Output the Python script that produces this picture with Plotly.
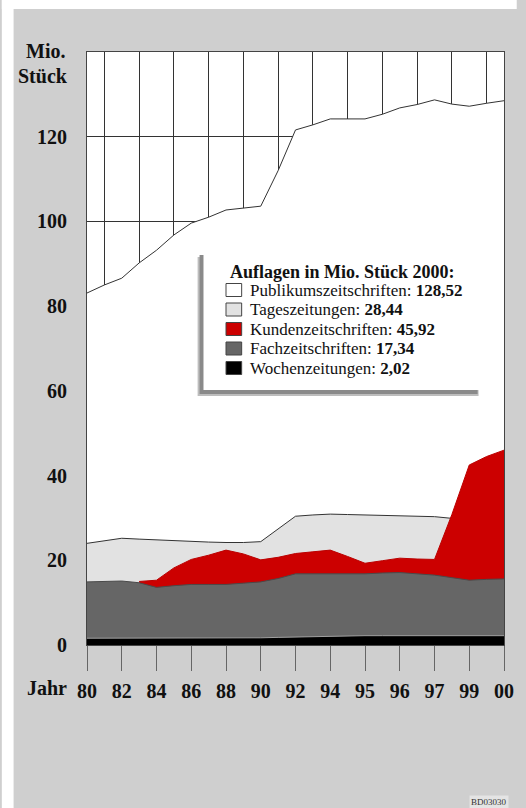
import plotly.graph_objects as go

# ---------------- data ----------------
periods = ["80", "81", "82", "83", "84", "85", "86", "87", "88", "89", "90", "91",
           "92", "93", "94", "94½", "95", "95½", "96", "96½", "97", "98", "99", "99½", "00"]
tick_labels = ["80", "82", "84", "86", "88", "90", "92", "94", "95", "96", "97", "99", "00"]

publikum = [83.1, 85.0, 86.6, 90.2, 93.2, 96.8, 99.6, 101.0, 102.7, 103.1, 103.6, 112.0,
            121.6, 122.8, 124.2, 124.2, 124.2, 125.3, 126.8, 127.6, 128.7, 127.7, 127.2, 127.9, 128.5]
tages = [24.0, 24.6, 25.2, 25.0, 24.8, 24.6, 24.4, 24.3, 24.2, 24.2, 24.4, 27.3,
         30.4, 30.7, 30.9, 30.8, 30.7, 30.6, 30.5, 30.4, 30.3, 29.9, 29.0, 28.7, 28.4]
kunden = [None, None, None, 15.0, 15.3, 18.2, 20.2, 21.2, 22.4, 21.5, 20.1, 20.7,
          21.6, 22.0, 22.4, 20.9, 19.3, 19.9, 20.5, 20.3, 20.2, 30.8, 42.5, 44.5, 46.0]
fach = [14.9, 15.0, 15.1, 14.7, 13.6, 14.0, 14.3, 14.3, 14.3, 14.6, 14.9, 15.7,
        16.8, 16.8, 16.8, 16.8, 16.8, 17.0, 17.1, 16.8, 16.5, 15.9, 15.3, 15.5, 15.6]
wochen = [1.6, 1.6, 1.6, 1.6, 1.6, 1.6, 1.7, 1.7, 1.7, 1.7, 1.7, 1.8,
          1.9, 2.0, 2.1, 2.2, 2.2, 2.2, 2.2, 2.2, 2.2, 2.2, 2.2, 2.2, 2.2]

series_names = ["Publikumszeitschriften", "Tageszeitungen", "Kundenzeitschriften",
                "Fachzeitschriften", "Wochenzeitungen"]
series_2000 = ["128,52", "28,44", "45,92", "17,34", "2,02"]
legend_title = "Auflagen in Mio. Stück 2000:"

# ---------------- styles ----------------
fills = ["#ffffff", "#e2e2e2", "#cc0000", "#666666", "#000000"]
lines = ["#333333", "#333333", "#bb0000", "#4a4a4a", "#a0a0a0"]
SERIF = "Liberation Serif, Times New Roman, serif"

W, H = 526, 808
ML, MR, MT, MB = 87, 13, 52, 163
PW, PH = W - ML - MR, H - MT - MB


def px(x):
    return (x - ML) / PW


def py(y):
    return (H - MB - y) / PH


x = [i * 0.5 for i in range(len(periods))]
tickvals = [x[periods.index(t)] for t in tick_labels]

fig = go.Figure()
for name, vals, fc, lc in zip(series_names, [publikum, tages, kunden, fach, wochen], fills, lines):
    fig.add_trace(go.Scatter(
        x=x, y=vals, name=name, mode="lines", fill="tozeroy",
        fillcolor=fc, line=dict(color=lc, width=1), showlegend=False,
        hoverinfo="skip"))

shapes = []
# white strips outside the gray background (left and top)
shapes.append(dict(type="rect", xref="paper", yref="paper", x0=px(0), x1=px(12),
                   y0=py(H), y1=py(0), fillcolor="#ffffff", line=dict(width=0), layer="below"))
shapes.append(dict(type="rect", xref="paper", yref="paper", x0=px(0), x1=px(W),
                   y0=py(9), y1=py(0), fillcolor="#ffffff", line=dict(width=0), layer="below"))

# legend box with shadow
box_l, box_r, box_t, box_b = 206, 490, 252, 390
shapes.append(dict(type="rect", xref="paper", yref="paper", x0=px(box_l - 6), x1=px(box_r - 3),
                   y0=py(box_b + 6), y1=py(box_t + 5), fillcolor="#bdbdbd",
                   line=dict(width=0), layer="above"))
shapes.append(dict(type="rect", xref="paper", yref="paper", x0=px(box_l - 4), x1=px(box_r - 4),
                   y0=py(box_b + 4), y1=py(box_t + 3), fillcolor="#8a8a8a",
                   line=dict(width=0), layer="above"))
shapes.append(dict(type="rect", xref="paper", yref="paper", x0=px(box_l), x1=px(box_r),
                   y0=py(box_b), y1=py(box_t), fillcolor="#ffffff",
                   line=dict(width=0), layer="above"))

annotations = []
annotations.append(dict(text="<b>" + legend_title + "</b>", x=px(231), y=py(272),
                        xref="paper", yref="paper", xanchor="left", yanchor="middle",
                        showarrow=False, font=dict(family=SERIF, size=18, color="#111")))
row_y = [290, 309.5, 329, 348.5, 368]
for i, (name, val, fc) in enumerate(zip(series_names, series_2000, fills)):
    yc = row_y[i]
    shapes.append(dict(type="rect", xref="paper", yref="paper", x0=px(229), x1=px(245),
                       y0=py(yc + 6.5), y1=py(yc - 6.5), fillcolor=fc,
                       line=dict(color="#444", width=1), layer="above"))
    annotations.append(dict(text=f"{name}: <b>{val}</b>", x=px(251), y=py(yc),
                            xref="paper", yref="paper", xanchor="left", yanchor="middle",
                            showarrow=False, font=dict(family=SERIF, size=17, color="#111")))

# axis titles / misc text
annotations.append(dict(text="<b>Mio.</b>", x=px(45), y=py(51), xref="paper", yref="paper",
                        xanchor="center", yanchor="middle", showarrow=False,
                        font=dict(family=SERIF, size=20, color="#111")))
annotations.append(dict(text="<b>Stück</b>", x=px(42), y=py(76), xref="paper", yref="paper",
                        xanchor="center", yanchor="middle", showarrow=False,
                        font=dict(family=SERIF, size=20, color="#111")))
annotations.append(dict(text="<b>Jahr</b>", x=px(46), y=py(688), xref="paper", yref="paper",
                        xanchor="center", yanchor="middle", showarrow=False,
                        font=dict(family=SERIF, size=20, color="#111")))
annotations.append(dict(text="BD03030", x=px(518), y=py(802), xref="paper", yref="paper",
                        xanchor="right", yanchor="middle", showarrow=False,
                        bgcolor="#e4e4e4", font=dict(family=SERIF, size=9, color="#333")))

fig.update_layout(
    width=W, height=H,
    margin=dict(l=ML, r=MR, t=MT, b=MB, pad=0),
    paper_bgcolor="#cfcfcf", plot_bgcolor="#ffffff",
    showlegend=False,
    shapes=shapes, annotations=annotations,
    xaxis=dict(range=[0, 12], tickvals=tickvals, ticktext=tick_labels,
               ticks="outside", ticklen=25, tickcolor="#666", tickwidth=1,
               ticklabelstandoff=3,
               showgrid=False, zeroline=False,
               minor=dict(tick0=0.5, dtick=1, showgrid=True, gridcolor="#333", gridwidth=1, ticks=""),
               showline=True, mirror=True, linecolor="#444", linewidth=1,
               tickfont=dict(family=SERIF, size=20, color="#111", weight="bold")),
    yaxis=dict(range=[0, 140], tickvals=[0, 20, 40, 60, 80, 100, 120],
               ticks="", ticklabelstandoff=15,
               showgrid=True, gridcolor="#333", gridwidth=1, zeroline=False,
               showline=True, mirror=True, linecolor="#444", linewidth=1,
               tickfont=dict(family=SERIF, size=20, color="#111", weight="bold")),
)

fig.write_html("out.html")
